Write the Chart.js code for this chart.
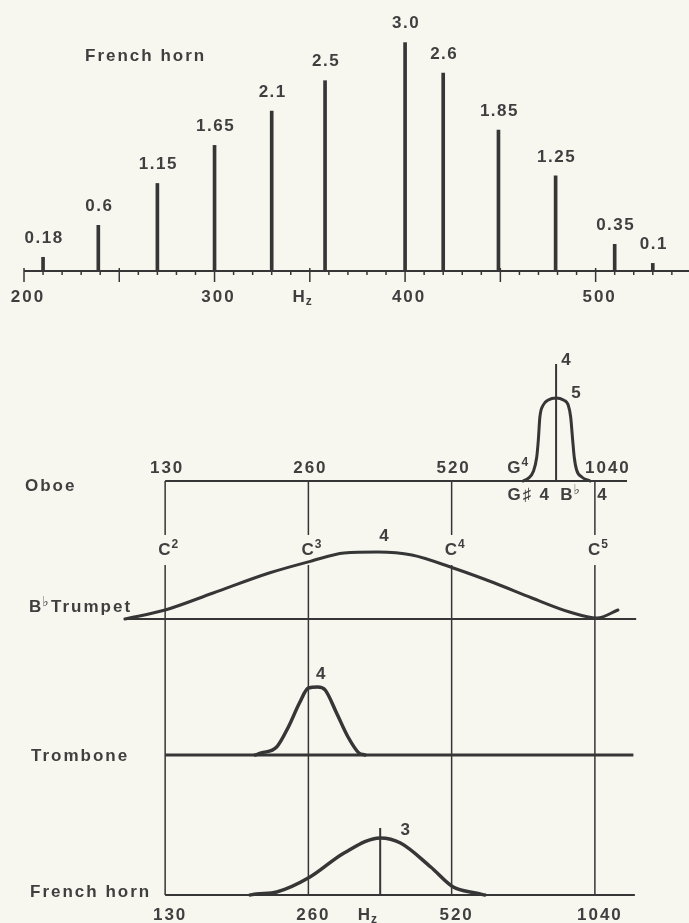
<!DOCTYPE html>
<html>
<head>
<meta charset="utf-8">
<script src="https://cdn.jsdelivr.net/npm/chart.js@4.4.1/dist/chart.umd.min.js"></script>
<style>
  html, body { margin: 0; padding: 0; background: #f7f7f0; }
  #wrap { position: relative; width: 689px; height: 923px; overflow: hidden; }
  canvas { position: absolute; left: 0; }
  #top { top: 0; }
  #bottom { top: 310px; }
</style>
</head>
<body>
<div id="wrap">
  <canvas id="top" width="689" height="310"></canvas>
  <canvas id="bottom" width="689" height="613"></canvas>
</div>
<script>
// French horn spectrum (top) + formant regions of four instruments (bottom)
const INK = '#363636';
const TEXT = '#3f3f3f';
const FONT = 'bold 17px "Liberation Sans", Arial, sans-serif';
const SUP_FONT = 'bold 12px "Liberation Sans", Arial, sans-serif';
const FLAT_FONT = 'bold 14px "DejaVu Sans", sans-serif';

// top panel: harmonic spectrum
const spectrumTitle = 'French horn';
const harmonicHz = [210, 239, 270, 300, 330, 358, 400, 420, 449, 479, 510, 530];
const harmonicAmp = [0.18, 0.6, 1.15, 1.65, 2.1, 2.5, 3.0, 2.6, 1.85, 1.25, 0.35, 0.1];
const harmonicLabels = ['0.18', '0.6', '1.15', '1.65', '2.1', '2.5', '3.0', '2.6', '1.85', '1.25', '0.35', '0.1'];
const spectrumTicks = [200, 300, 400, 500];
const spectrumMinor = 10, spectrumMajor = 50;

// bottom panel: octave axis
const octaveHz = [130, 260, 520, 1040];
const octaveLabels = ['130', '260', '520', '1040'];
const octaveNotes = ['2', '3', '4', '5'];   // C^n
const hzLabelAt = 346;

// oboe
const oboeHz  = [735, 754, 772, 785, 791, 797, 810, 830, 862, 893, 914, 925, 934, 941, 952, 976, 1016];
const oboeLvl = [0, 0.14, 0.47, 1.2, 2.05, 3.2, 3.8, 4.05, 4.15, 4.05, 3.8, 3.2, 2.05, 1.2, 0.55, 0.2, 0];
const oboePeakHz = 862, oboePeakTop = 5.85;
const oboeAxisHz = [130, 1215];
const noteG4 = 779, noteGs4 = 826, noteBb4 = 927;

// B-flat trumpet
const trumpetHz  = [107, 130, 164, 215, 264, 309, 364, 429, 524, 640, 767, 920, 1051, 1163];
const trumpetLvl = [0, 0.45, 1.3, 2.3, 2.9, 3.3, 3.35, 3.2, 2.55, 1.8, 1.05, 0.35, 0.05, 0.45];
const trumpetAxisHz = [107, 1270];
const trumpetPeakHz = 364;

// trombone
const tromboneHz  = [201, 207, 223, 236, 249, 260, 272, 282, 298, 315, 332, 342];
const tromboneLvl = [0, 0.1, 0.4, 1.4, 2.6, 3.35, 3.4, 3.25, 2.1, 0.9, 0.1, 0];
const tromboneAxisHz = [130, 1253];
const trombonePeakHz = 272;

// French horn
const hornHz  = [196, 202, 223, 262, 309, 368, 406, 470, 524, 584, 611];
const hornLvl = [0, 0.05, 0.15, 0.9, 2.1, 2.85, 2.6, 1.4, 0.4, 0.1, 0];
const hornPeakHz = 368, hornPeakTop = 3.35;
const hornAxisHz = [130, 1262];

// ---------- text helpers ----------
function txt(ctx, s, x, y, align = 'center', font = FONT, ls = '2px') {
  ctx.font = font;
  ctx.letterSpacing = ls;
  ctx.textAlign = align;
  ctx.textBaseline = 'middle';
  ctx.fillStyle = TEXT;
  ctx.fillText(s, x, y);
}
function width(ctx, s, font, ls = '0px') {
  ctx.font = font; ctx.letterSpacing = ls;
  return ctx.measureText(s).width;
}
// base text with a raised (dy<0) or lowered (dy>0) small part
function script(ctx, base, small, x, y, align, dy, smallFont = SUP_FONT) {
  const wb = width(ctx, base, FONT) + 1, ws = width(ctx, small, smallFont);
  const total = wb + ws;
  const x0 = align === 'right' ? x - total : align === 'left' ? x : x - total / 2;
  txt(ctx, base, x0, y, 'left', FONT, '0px');
  txt(ctx, small, x0 + wb, y + dy, 'left', smallFont, '0px');
}

// ---------- top chart ----------
const spectrumAxis = {
  id: 'spectrumAxis',
  afterDatasetsDraw(chart) {
    const { ctx, scales: { x, y } } = chart;
    const y0 = y.getPixelForValue(0);
    ctx.save();
    ctx.strokeStyle = INK;
    ctx.lineWidth = 2;
    ctx.beginPath();
    ctx.moveTo(x.getPixelForValue(spectrumTicks[0]), y0);
    ctx.lineTo(chart.width, y0);
    ctx.stroke();
    ctx.lineWidth = 1.5;
    for (let v = spectrumTicks[0]; v <= x.max; v += spectrumMinor) {
      const px = x.getPixelForValue(v);
      const major = v % spectrumMajor === 0;
      ctx.beginPath();
      ctx.moveTo(px, major ? y0 - 3 : y0);
      ctx.lineTo(px, y0 + (major ? 11 : 4));
      ctx.stroke();
    }
    spectrumTicks.forEach(v => txt(ctx, String(v), x.getPixelForValue(v) + 4, y0 + 26));
    script(ctx, 'H', 'z', x.getPixelForValue(hzLabelAt), y0 + 26, 'center', 5);
    harmonicHz.forEach((f, i) => {
      txt(ctx, harmonicLabels[i], x.getPixelForValue(f) + 1, y.getPixelForValue(harmonicAmp[i]) - 19, 'center', FONT, '1.5px');
    });
    txt(ctx, spectrumTitle, 85, 56, 'left');
    ctx.restore();
  }
};

new Chart(document.getElementById('top'), {
  type: 'bar',
  data: {
    datasets: [{
      data: harmonicHz.map((f, i) => ({ x: f, y: harmonicAmp[i] })),
      backgroundColor: INK,
      barThickness: 3
    }]
  },
  options: {
    responsive: false,
    animation: false,
    layout: { padding: { left: 24, right: 0, top: 0, bottom: 39 } },
    plugins: { legend: { display: false }, tooltip: { enabled: false } },
    scales: {
      x: { type: 'linear', min: 200, max: 549, offset: false, grid: { offset: false }, display: false },
      y: { min: 0, max: 3.56, display: false }
    }
  },
  plugins: [spectrumAxis]
});

// ---------- bottom chart ----------
const AREA_TOP = 20, AREA_BOTTOM = 595, UNIT = 20;   // canvas px, px per level
function rowScale(basePx) {
  return { type: 'linear', display: false, min: -(AREA_BOTTOM - basePx) / UNIT, max: (basePx - AREA_TOP) / UNIT };
}
function curve(hz, lvl, axis, w) {
  return {
    data: hz.map((f, i) => ({ x: f, y: lvl[i] })), yAxisID: axis,
    borderColor: INK, borderWidth: w, pointRadius: 0,
    cubicInterpolationMode: 'monotone', borderCapStyle: 'round', borderJoinStyle: 'round'
  };
}
function straight(pts, axis, w) {
  return { data: pts, yAxisID: axis, borderColor: INK, borderWidth: w, pointRadius: 0, tension: 0 };
}

const octaveGrid = {
  id: 'octaveGrid',
  beforeDatasetsDraw(chart) {
    const { ctx, scales: s } = chart;
    const top = s.yOb.getPixelForValue(0), bot = s.yFh.getPixelForValue(0);
    const mid = (top + s.yTp.getPixelForValue(0)) / 2;
    ctx.save();
    ctx.strokeStyle = INK;
    ctx.lineWidth = 1.5;
    octaveHz.forEach(f => {
      const px = s.x.getPixelForValue(f);
      ctx.beginPath();
      ctx.moveTo(px, top); ctx.lineTo(px, mid - 15);
      ctx.moveTo(px, mid + 15); ctx.lineTo(px, bot);
      ctx.stroke();
    });
    ctx.restore();
  },
  afterDatasetsDraw(chart) {
    const { ctx, scales: s } = chart;
    const X = f => s.x.getPixelForValue(f);
    const ob = s.yOb.getPixelForValue(0), tp = s.yTp.getPixelForValue(0);
    const tb = s.yTb.getPixelForValue(0), fh = s.yFh.getPixelForValue(0);
    const mid = (ob + tp) / 2;
    ctx.save();
    // row names
    txt(ctx, 'Oboe', 25, ob + 5, 'left');
    script(ctx, 'B', '\u266d', 29, tp - 12, 'left', -5, FLAT_FONT);
    txt(ctx, 'Trumpet', 51, tp - 12, 'left');
    txt(ctx, 'Trombone', 31, tb + 1, 'left');
    txt(ctx, 'French horn', 30, fh - 3, 'left');
    // octave labels on the oboe axis and at the bottom
    octaveHz.forEach((f, i) => {
      const last = i === octaveHz.length - 1;
      txt(ctx, octaveLabels[i], X(f) + (last ? 13 : 2), ob - 13, 'center', FONT, '2px');
      txt(ctx, octaveLabels[i], X(f) + 5, fh + 20, 'center', FONT, '2px');
      script(ctx, 'C', octaveNotes[i], X(f) + 3, mid, 'center', -5);
    });
    script(ctx, 'H', 'z', X(hzLabelAt), fh + 20, 'center', 5);
    // oboe note names
    script(ctx, 'G', '4', X(noteG4) - 7, ob - 13, 'right', -5);
    txt(ctx, 'G\u266f', X(noteGs4) - 14, ob + 14, 'right');
    txt(ctx, '4', X(noteGs4) - 2, ob + 14);
    script(ctx, 'B', '\u266d', X(noteBb4) - 1, ob + 14, 'center', -5, FLAT_FONT);
    txt(ctx, '4', X(octaveHz[3]) + 8, ob + 14);
    // peak numbers
    txt(ctx, '4', X(oboePeakHz) + 11, s.yOb.getPixelForValue(oboePeakTop) - 4);
    txt(ctx, '5', X(oboePeakHz) + 21, s.yOb.getPixelForValue(Math.max(...oboeLvl)) - 5);
    txt(ctx, '4', X(trumpetPeakHz) + 7, s.yTp.getPixelForValue(Math.max(...trumpetLvl)) - 16);
    txt(ctx, '4', X(trombonePeakHz) + 4, s.yTb.getPixelForValue(Math.max(...tromboneLvl)) - 13);
    txt(ctx, '3', X(hornPeakHz) + 26, s.yFh.getPixelForValue(hornPeakTop) + 2);
    ctx.restore();
  }
};

new Chart(document.getElementById('bottom'), {
  type: 'line',
  data: {
    datasets: [
      curve(oboeHz, oboeLvl, 'yOb', 3),
      straight([{ x: oboePeakHz, y: 0 }, { x: oboePeakHz, y: oboePeakTop }], 'yOb', 2),
      curve(trumpetHz, trumpetLvl, 'yTp', 3),
      curve(tromboneHz, tromboneLvl, 'yTb', 3.5),
      curve(hornHz, hornLvl, 'yFh', 3.5),
      straight([{ x: hornPeakHz, y: 0 }, { x: hornPeakHz, y: hornPeakTop }], 'yFh', 2),
      straight(oboeAxisHz.map(f => ({ x: f, y: 0 })), 'yOb', 2),
      straight(trumpetAxisHz.map(f => ({ x: f, y: 0 })), 'yTp', 2),
      straight(tromboneAxisHz.map(f => ({ x: f, y: 0 })), 'yTb', 3),
      straight(hornAxisHz.map(f => ({ x: f, y: 0 })), 'yFh', 2)
    ]
  },
  options: {
    responsive: false,
    animation: false,
    layout: { padding: { left: 121, right: 48, top: AREA_TOP, bottom: 613 - AREA_BOTTOM } },
    plugins: { legend: { display: false }, tooltip: { enabled: false } },
    scales: {
      x: { type: 'logarithmic', min: 105, max: 1300, display: false },
      yOb: rowScale(171),
      yTp: rowScale(309),
      yTb: rowScale(445),
      yFh: rowScale(585)
    }
  },
  plugins: [octaveGrid]
});
</script>
</body>
</html>
